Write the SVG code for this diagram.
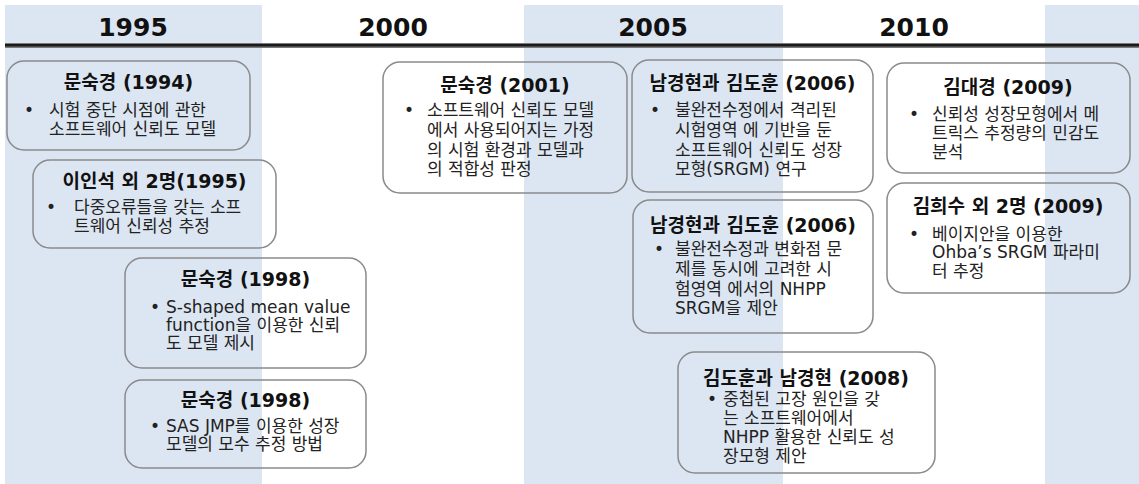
<svg xmlns="http://www.w3.org/2000/svg" width="1139" height="484" viewBox="0 0 1139 484">
<style>
.band{fill:#dce6f2}
.yr{font-family:"DejaVu Sans","Liberation Sans",sans-serif;font-weight:bold;font-size:25px;fill:#111;text-anchor:middle}
.box{fill:none;stroke:#8a8a8a;stroke-width:1.5}
.ttl{font-family:"DejaVu Sans","Noto Sans CJK KR",sans-serif;font-weight:bold;font-size:19px;fill:#111;text-anchor:middle}
.txt{font-family:"DejaVu Sans","Noto Sans CJK KR",sans-serif;font-size:17px;fill:#222}
</style>
<rect width="1139" height="484" fill="#ffffff"/>
<g id="bands">
<rect class="band" x="5" y="5" width="257" height="479"/>
<rect class="band" x="524" y="5" width="259" height="479"/>
<rect class="band" x="1045" y="5" width="94" height="479"/>
</g>
<g id="axis">
<rect x="5" y="43" width="1134" height="5" fill="#7a7a7a"/>
<rect x="5" y="44" width="1134" height="2.5" fill="#1a1a1a"/>
<text class="yr" x="133" y="36">1995</text>
<text class="yr" x="393" y="36">2000</text>
<text class="yr" x="653" y="36">2005</text>
<text class="yr" x="914" y="36">2010</text>
</g>
<g id="connectors"></g>
<g id="n1">
<rect class="box" x="7" y="61" width="243" height="89" rx="17"/>
<text class="ttl" x="128.5" y="89">문숙경 (1994)</text>
<text class="txt" x="24" y="116">•</text>
<text class="txt" x="49" y="116">시험 중단 시점에 관한</text>
<text class="txt" x="49" y="135">소프트웨어 신뢰도 모델</text>
</g>
<g id="n2">
<rect class="box" x="33" y="160" width="243" height="88" rx="17"/>
<text class="ttl" x="154.5" y="188">이인석 외 2명(1995)</text>
<text class="txt" x="46" y="213">•</text>
<text class="txt" x="74" y="213">다중오류들을 갖는 소프</text>
<text class="txt" x="74" y="232">트웨어 신뢰성 추정</text>
</g>
<g id="n3">
<rect class="box" x="125" y="258" width="241" height="110" rx="17"/>
<text class="ttl" x="245.5" y="286">문숙경 (1998)</text>
<text class="txt" x="150" y="313">•</text>
<text class="txt" x="166" y="313">S-shaped mean value</text>
<text class="txt" x="166" y="331">function을 이용한 신뢰</text>
<text class="txt" x="166" y="349">도 모델 제시</text>
</g>
<g id="n4">
<rect class="box" x="125" y="380" width="241" height="88" rx="17"/>
<text class="ttl" x="245.5" y="407">문숙경 (1998)</text>
<text class="txt" x="150" y="432">•</text>
<text class="txt" x="166" y="432">SAS JMP를 이용한 성장</text>
<text class="txt" x="166" y="450">모델의 모수 추정 방법</text>
</g>
<g id="n5">
<rect class="box" x="383" y="62" width="244" height="131" rx="17"/>
<text class="ttl" x="505" y="92">문숙경 (2001)</text>
<text class="txt" x="404" y="116">•</text>
<text class="txt" x="427" y="116">소프트웨어 신뢰도 모델</text>
<text class="txt" x="427" y="136">에서 사용되어지는 가정</text>
<text class="txt" x="427" y="156">의 시험 환경과 모델과</text>
<text class="txt" x="427" y="175">의 적합성 판정</text>
</g>
<g id="n6">
<rect class="box" x="632" y="60" width="241" height="132" rx="17"/>
<text class="ttl" x="752.5" y="90">남경현과 김도훈 (2006)</text>
<text class="txt" x="650" y="116">•</text>
<text class="txt" x="675" y="116">불완전수정에서 격리된</text>
<text class="txt" x="675" y="136">시험영역 에 기반을 둔</text>
<text class="txt" x="675" y="156">소프트웨어 신뢰도 성장</text>
<text class="txt" x="675" y="175">모형(SRGM) 연구</text>
</g>
<g id="n7">
<rect class="box" x="633" y="200" width="240" height="133" rx="17"/>
<text class="ttl" x="753" y="232">남경현과 김도훈 (2006)</text>
<text class="txt" x="654" y="255">•</text>
<text class="txt" x="675" y="255">불완전수정과 변화점 문</text>
<text class="txt" x="675" y="275">제를 동시에 고려한 시</text>
<text class="txt" x="675" y="295">험영역 에서의 NHPP</text>
<text class="txt" x="675" y="314">SRGM을 제안</text>
</g>
<g id="n8">
<rect class="box" x="678" y="352" width="257" height="121" rx="17"/>
<text class="ttl" x="806" y="385">김도훈과 남경현 (2008)</text>
<text class="txt" x="707" y="405">•</text>
<text class="txt" x="723" y="405">중첩된 고장 원인을 갖</text>
<text class="txt" x="723" y="424">는 소프트웨어에서</text>
<text class="txt" x="723" y="443">NHPP 활용한 신뢰도 성</text>
<text class="txt" x="723" y="462">장모형 제안</text>
</g>
<g id="n9">
<rect class="box" x="887" y="63" width="243" height="110" rx="17"/>
<text class="ttl" x="1008" y="94">김대경 (2009)</text>
<text class="txt" x="909" y="120">•</text>
<text class="txt" x="932" y="120">신뢰성 성장모형에서 메</text>
<text class="txt" x="932" y="139">트릭스 추정량의 민감도</text>
<text class="txt" x="932" y="158">분석</text>
</g>
<g id="n10">
<rect class="box" x="887" y="183" width="243" height="110" rx="17"/>
<text class="ttl" x="1008" y="213">김희수 외 2명 (2009)</text>
<text class="txt" x="909" y="240">•</text>
<text class="txt" x="932" y="240">베이지안을 이용한</text>
<text class="txt" x="932" y="258">Ohba’s SRGM 파라미</text>
<text class="txt" x="932" y="277">터 추정</text>
</g>
</svg>
